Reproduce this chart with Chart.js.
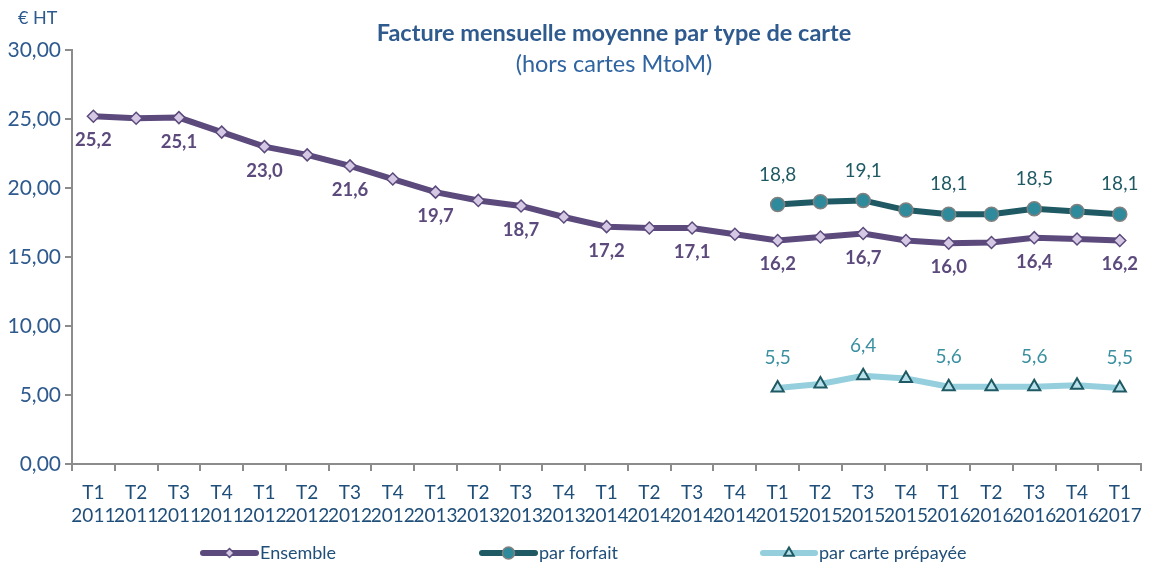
<!DOCTYPE html>
<html lang="fr">
<head>
<meta charset="utf-8">
<title>Facture mensuelle moyenne par type de carte</title>
<script src="https://cdn.jsdelivr.net/npm/chart.js@4.4.1/dist/chart.umd.min.js"></script>
<style>
  html, body { margin: 0; padding: 0; background: #fff; }
  #wrap { position: relative; width: 1152px; height: 565px; }
</style>
</head>
<body>
<div id="wrap"><canvas id="factureChart" width="1152" height="565"></canvas></div>
<script>
// ===================================
// DATA
// ===================================
const quarters = ["T1", "T2", "T3", "T4", "T1", "T2", "T3", "T4", "T1", "T2", "T3", "T4",
  "T1", "T2", "T3", "T4", "T1", "T2", "T3", "T4", "T1", "T2", "T3", "T4", "T1"];
const years = ["2011", "2011", "2011", "2011", "2012", "2012", "2012", "2012", "2013", "2013",
  "2013", "2013", "2014", "2014", "2014", "2014", "2015", "2015", "2015", "2015", "2016",
  "2016", "2016", "2016", "2017"];
const ensemble = [25.2, 25.05, 25.1, 24.05, 23.0, 22.4, 21.6, 20.65, 19.7, 19.1, 18.7, 17.9,
  17.2, 17.1, 17.1, 16.65, 16.2, 16.45, 16.7, 16.2, 16.0, 16.05, 16.4, 16.3, 16.2];
const parForfait = [null, null, null, null, null, null, null, null, null, null, null, null,
  null, null, null, null, 18.8, 19.0, 19.1, 18.4, 18.1, 18.1, 18.5, 18.3, 18.1];
const parCartePrepayee = [null, null, null, null, null, null, null, null, null, null, null, null,
  null, null, null, null, 5.5, 5.8, 6.4, 6.2, 5.6, 5.6, 5.6, 5.7, 5.5];
const yTicks = [0, 5, 10, 15, 20, 25, 30];

const FONT = "Lato, 'Open Sans', sans-serif";
const AXIS_BLUE = "#2f5a8e";
const GREY = "#8c8c8c";

// ===================================
// DATA LABELS + TITLE + LEGEND PLUGIN
// ===================================
const fmt = (v) => v.toFixed(1).replace(".", ",");

const labelsPlugin = {
  id: "labelsPlugin",
  afterDatasetsDraw(chart) {
    const ctx = chart.ctx;
    ctx.save();
    ctx.textAlign = "center";
    ctx.textBaseline = "middle";
    chart.data.datasets.forEach((ds, i) => {
      const meta = chart.getDatasetMeta(i);
      meta.data.forEach((pt, idx) => {
        const v = ds.data[idx];
        if (v == null || idx % 2 !== 0) return;
        ctx.font = (ds.labelBold ? "bold 18.5px " : "19px ") + FONT;
        ctx.fillStyle = ds.labelColor;
        ctx.fillText(fmt(v), pt.x, pt.y + ds.labelOffset);
      });
    });
    ctx.restore();
  },
  afterDraw(chart) {
    const ctx = chart.ctx;
    ctx.save();
    ctx.textAlign = "center";
    ctx.textBaseline = "middle";
    ctx.fillStyle = AXIS_BLUE;
    ctx.font = "bold 23.5px " + FONT;
    ctx.fillText("Facture mensuelle moyenne par type de carte", 614, 33);
    ctx.fillStyle = "#2f64a0";
    ctx.font = "23.5px " + FONT;
    ctx.fillText("(hors cartes MtoM)", 614, 64);
    ctx.fillStyle = AXIS_BLUE;
    ctx.font = "18px " + FONT;
    ctx.textAlign = "left";
    ctx.fillText("€ HT", 18, 18);
    drawLegend(chart);
    ctx.restore();
  },
};

function drawLegend(chart) {
  const ctx = chart.ctx;
  const y = 553;
  const items = [
    { x0: 203, x1: 256, r: 4.5, ds: chart.data.datasets[0], text: "Ensemble" },
    { x0: 482, x1: 535, r: 6, ds: chart.data.datasets[1], text: "par forfait" },
    { x0: 763, x1: 815, r: 5.5, ds: chart.data.datasets[2], text: "par carte prépayée" },
  ];
  items.forEach((it) => {
    ctx.strokeStyle = it.ds.borderColor;
    ctx.lineWidth = 6;
    ctx.lineCap = "round";
    ctx.beginPath();
    ctx.moveTo(it.x0, y);
    ctx.lineTo(it.x1, y);
    ctx.stroke();
    ctx.fillStyle = it.ds.pointBackgroundColor;
    ctx.strokeStyle = it.ds.pointBorderColor;
    ctx.lineWidth = it.ds.pointBorderWidth;
    Chart.helpers.drawPoint(ctx, {
      pointStyle: it.ds.pointStyle,
      radius: it.r,
      borderWidth: it.ds.pointBorderWidth,
    }, (it.x0 + it.x1) / 2, y);
    ctx.fillStyle = "#1f4e79";
    ctx.font = "18px " + FONT;
    ctx.textAlign = "left";
    ctx.fillText(it.text, it.x1 + 4, y);
  });
}

// ===================================
// CHART
// ===================================
function initChart() {
  const ctx = document.getElementById("factureChart");
  new Chart(ctx, {
    type: "line",
    data: {
      labels: quarters.map((q, i) => [q, years[i]]),
      datasets: [
        {
          label: "Ensemble",
          data: ensemble,
          borderColor: "#5c4a7d",
          borderWidth: 6,
          pointStyle: "rectRot",
          pointRadius: 6,
          pointBackgroundColor: "#d4c8e4",
          pointBorderColor: "#5c4a7d",
          pointBorderWidth: 1.5,
          labelColor: "#5c4a7d",
          labelBold: true,
          labelOffset: 24,
          tension: 0,
        },
        {
          label: "par forfait",
          data: parForfait,
          borderColor: "#1f5a64",
          borderWidth: 6,
          pointStyle: "circle",
          pointRadius: 7,
          pointBackgroundColor: "#2f8a9b",
          pointBorderColor: "#808080",
          pointBorderWidth: 1.5,
          labelColor: "#1f5a64",
          labelBold: false,
          labelOffset: -30,
          tension: 0,
        },
        {
          label: "par carte prépayée",
          data: parCartePrepayee,
          borderColor: "#95cfdd",
          borderWidth: 6,
          pointStyle: "triangle",
          pointRadius: 7,
          pointBackgroundColor: "#b7e0ea",
          pointBorderColor: "#1f5a64",
          pointBorderWidth: 2,
          labelColor: "#3a8fa0",
          labelBold: false,
          labelOffset: -30,
          tension: 0,
        },
      ],
    },
    options: {
      responsive: false,
      animation: false,
      layout: { padding: { top: 50, right: 5, bottom: 34, left: 0 } },
      plugins: {
        legend: { display: false },
        title: { display: false },
        tooltip: { enabled: false },
      },
      scales: {
        x: {
          offset: true,
          grid: {
            offset: true,
            drawOnChartArea: false,
            drawTicks: true,
            tickLength: 7,
            color: GREY,
            lineWidth: 2,
          },
          border: { color: GREY, width: 2 },
          ticks: {
            color: "#1f4e79",
            font: { family: FONT, size: 19, lineHeight: 1.22 },
            maxRotation: 0,
            autoSkip: false,
            padding: 10,
          },
          afterFit: (s) => { s.height = 67; },
        },
        y: {
          min: 0,
          max: 30,
          afterBuildTicks: (s) => { s.ticks = yTicks.map((v) => ({ value: v })); },
          grid: {
            drawOnChartArea: false,
            drawTicks: true,
            tickLength: 7,
            color: GREY,
            lineWidth: 2,
          },
          border: { color: GREY, width: 2 },
          ticks: {
            color: AXIS_BLUE,
            font: { family: FONT, size: 21 },
            padding: 4,
            callback: (v) => v.toFixed(2).replace(".", ","),
          },
          afterFit: (s) => { s.width = 72; },
        },
      },
    },
    plugins: [labelsPlugin],
  });
}

document.addEventListener("DOMContentLoaded", initChart);
</script>
</body>
</html>
